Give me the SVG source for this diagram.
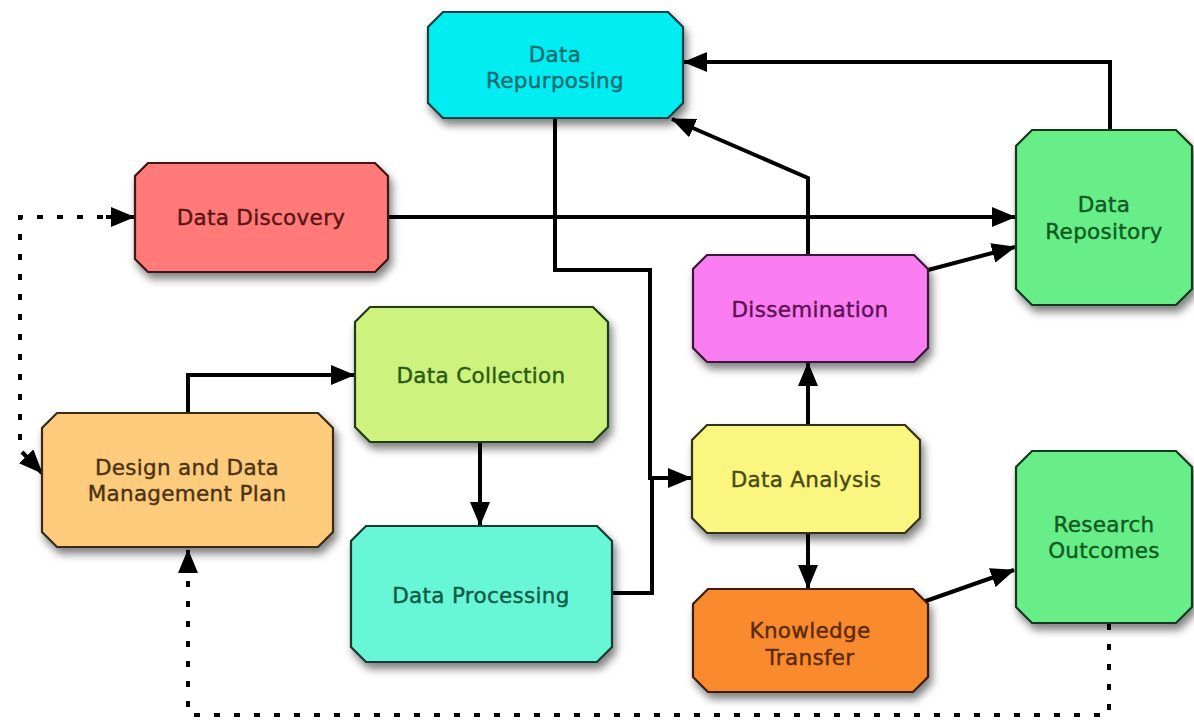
<svg xmlns="http://www.w3.org/2000/svg" width="1194" height="721" viewBox="0 0 1194 721">
<style>
text{font-family:"DejaVu Sans","Open Sans",sans-serif;font-size:21.5px;text-anchor:middle;letter-spacing:0.3px;stroke-width:0.4px}
.box{stroke-width:2.2;filter:url(#sh)}
.c{fill:none;stroke:#000;stroke-width:4;marker-end:url(#arr)}
.p{fill:none;stroke:#000;stroke-width:4}
.d{fill:none;stroke:#000;stroke-width:4;stroke-dasharray:6 14}
</style>
<defs>
<filter id="sh" x="-10%" y="-10%" width="125%" height="135%">
<feDropShadow dx="3" dy="6" stdDeviation="4.5" flood-color="#000" flood-opacity="0.5"/>
</filter>
<marker id="arr" viewBox="0 0 24 20" refX="23" refY="10" markerWidth="24" markerHeight="20" markerUnits="userSpaceOnUse" orient="auto">
<path d="M0,0 L24,10 L0,20 z" fill="#000"/>
</marker>
</defs>
<rect width="1194" height="721" fill="#fff"/>
<g id="connectors">
<path class="c" d="M1110,130 V62 H684"/>
<path class="c" d="M808,255 V178 L672,119"/>
<path class="c" d="M388,217 H1015"/>
<path class="c" d="M928,270 L1015,247"/>
<path class="c" d="M555,118 V270 H650 V478 H691"/>
<path class="p" d="M612,593 H652 V478"/>
<path class="c" d="M188,413 V375 H354"/>
<path class="c" d="M480,442 V525"/>
<path class="c" d="M808,425 V363"/>
<path class="c" d="M808,533 V588"/>
<path class="c" d="M923,602 L1014,570"/>
<path class="d" d="M1109,624 V715 H188 V570"/>
<path class="c" d="M188,572 V550"/>
<path class="d" d="M20,440 V217 H108"/>
<path class="c" d="M106,217 H134"/>
<path class="c" d="M22,452 L42,473"/>
</g>
<g id="data-repurposing">
<path class="box" fill="#00EEF2" stroke="#0f3f42" d="M443,12 H668 L683,27 V103 L668,118 H443 L428,103 V27 Z"/>
<text fill="#1b6a70" stroke="#1b6a70" x="555" y="62">Data</text>
<text fill="#1b6a70" stroke="#1b6a70" x="555" y="88">Repurposing</text>
</g>
<g id="data-discovery">
<path class="box" fill="#FF7A78" stroke="#3f1414" d="M148,163 H375 L388,176 V259 L375,272 H148 L135,259 V176 Z"/>
<text fill="#5a1414" stroke="#5a1414" x="261" y="225">Data Discovery</text>
</g>
<g id="design-plan">
<path class="box" fill="#FDCB7C" stroke="#3a2a14" d="M57,413 H318 L333,428 V532 L318,547 H57 L42,532 V428 Z"/>
<text fill="#4a3312" stroke="#4a3312" x="187" y="475">Design and Data</text>
<text fill="#4a3312" stroke="#4a3312" x="187" y="501">Management Plan</text>
</g>
<g id="data-collection">
<path class="box" fill="#CDF27E" stroke="#243a14" d="M370,307 H593 L608,322 V427 L593,442 H370 L355,427 V322 Z"/>
<text fill="#2a5a12" stroke="#2a5a12" x="481" y="383">Data Collection</text>
</g>
<g id="data-processing">
<path class="box" fill="#68F7D6" stroke="#143a30" d="M366,526 H597 L612,541 V647 L597,662 H366 L351,647 V541 Z"/>
<text fill="#0f5a45" stroke="#0f5a45" x="481" y="603">Data Processing</text>
</g>
<g id="data-analysis">
<path class="box" fill="#FBF680" stroke="#33331a" d="M707,425 H905 L920,440 V518 L905,533 H707 L692,518 V440 Z"/>
<text fill="#4a4a14" stroke="#4a4a14" x="806" y="487">Data Analysis</text>
</g>
<g id="dissemination">
<path class="box" fill="#FA7EF2" stroke="#3a1438" d="M707,255 H914 L928,269 V348 L914,362 H707 L693,348 V269 Z"/>
<text fill="#5a1252" stroke="#5a1252" x="810" y="317">Dissemination</text>
</g>
<g id="data-repository">
<path class="box" fill="#68EE88" stroke="#14381f" d="M1032,130 H1176 L1192,146 V289 L1176,305 H1032 L1016,289 V146 Z"/>
<text fill="#0f5a22" stroke="#0f5a22" x="1104" y="212">Data</text>
<text fill="#0f5a22" stroke="#0f5a22" x="1104" y="239">Repository</text>
</g>
<g id="research-outcomes">
<path class="box" fill="#68EE88" stroke="#14381f" d="M1032,451 H1176 L1192,467 V607 L1176,623 H1032 L1016,607 V467 Z"/>
<text fill="#0f5a22" stroke="#0f5a22" x="1104" y="532">Research</text>
<text fill="#0f5a22" stroke="#0f5a22" x="1104" y="558">Outcomes</text>
</g>
<g id="knowledge-transfer">
<path class="box" fill="#FA8A2E" stroke="#3a1f0c" d="M708,589 H913 L928,604 V677 L913,692 H708 L693,677 V604 Z"/>
<text fill="#5a2a0a" stroke="#5a2a0a" x="810" y="638">Knowledge</text>
<text fill="#5a2a0a" stroke="#5a2a0a" x="810" y="665">Transfer</text>
</g>
</svg>
